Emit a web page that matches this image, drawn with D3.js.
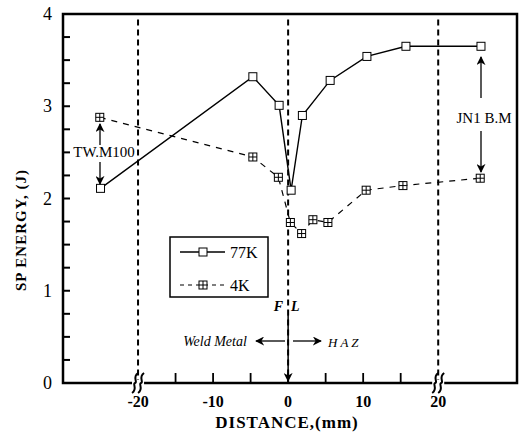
<!DOCTYPE html>
<html>
<head>
<meta charset="utf-8">
<script src="https://cdn.jsdelivr.net/npm/d3@7"></script>
<style>
  body { margin: 0; background: #fff; }
  text { font-family: "Liberation Serif", "DejaVu Serif", serif; fill: #000; }
</style>
</head>
<body>
<div id="chartDiv"></div>
<script>
// values
var dist77 = [-25, -4.7, -1.2, 0.4, 1.9, 5.6, 10.5, 15.7, 25.7];
var energy77 = [2.11, 3.32, 3.01, 2.09, 2.9, 3.28, 3.54, 3.65, 3.65];
var dist4 = [-25.1, -4.7, -1.3, 0.3, 1.8, 3.3, 5.3, 10.4, 15.3, 25.6];
var energy4 = [2.88, 2.45, 2.23, 1.74, 1.62, 1.77, 1.74, 2.09, 2.14, 2.22];
var xTicks = [-20, -10, 0, 10, 20];
var xMinor = [-15, -5, 5, 15];
var yTicks = [0, 1, 2, 3, 4];
var seriesNames = ["77K", "4K"];
var guideLines = [-20, 0, 20];

var width = 525,
    height = 445;

var svg = d3.select("#chartDiv")
    .append("svg")
    .attr("width", width)
    .attr("height", height);

var x = d3.scaleLinear().domain([-30, 30.5]).range([63, 517]);
var y = d3.scaleLinear().domain([0, 4]).range([383, 14]);

// dashed guides at -20, 0 (fusion line) and 20
svg.append("g")
    .selectAll("line")
    .data(guideLines)
    .enter().append("line")
    .attr("x1", function (d) { return x(d); })
    .attr("x2", function (d) { return x(d); })
    .attr("y1", y(3.94))
    .attr("y2", y(0))
    .attr("stroke", "#000")
    .attr("stroke-width", 2)
    .attr("stroke-dasharray", "6,4");

// frame
svg.append("rect")
    .attr("x", x(-30))
    .attr("y", y(4))
    .attr("width", x(30.5) - x(-30))
    .attr("height", y(0) - y(4))
    .attr("fill", "none")
    .attr("stroke", "#000")
    .attr("stroke-width", 2.5);

// y ticks (inside, every 0.25)
var yAll = d3.range(0, 4.01, 0.25);
svg.append("g")
    .selectAll("line")
    .data(yAll)
    .enter().append("line")
    .attr("x1", x(-30))
    .attr("x2", x(-30) + 7)
    .attr("y1", function (d) { return y(d); })
    .attr("y2", function (d) { return y(d); })
    .attr("stroke", "#000")
    .attr("stroke-width", 2);

svg.append("g")
    .selectAll("text")
    .data(yTicks)
    .enter().append("text")
    .attr("x", 52)
    .attr("y", function (d) { return y(d) + 6; })
    .attr("text-anchor", "end")
    .style("font-size", "18px")
    .text(function (d) { return d; });

// x ticks (inside)
svg.append("g")
    .selectAll("line")
    .data(xTicks.filter(function (d) { return Math.abs(d) < 20; }).concat(xMinor))
    .enter().append("line")
    .attr("x1", function (d) { return x(d); })
    .attr("x2", function (d) { return x(d); })
    .attr("y1", y(0))
    .attr("y2", y(0) - 10)
    .attr("stroke", "#000")
    .attr("stroke-width", 1.8);

svg.append("g")
    .selectAll("text")
    .data(xTicks)
    .enter().append("text")
    .attr("x", function (d) { return x(d); })
    .attr("y", 407)
    .attr("text-anchor", "middle")
    .style("font-size", "16px")
    .style("font-weight", "bold")
    .text(function (d) { return d; });

// axis break marks at +-20
var breaks = svg.append("g")
    .selectAll("g")
    .data([-20, 20])
    .enter().append("g")
    .attr("transform", function (d) { return "translate(" + x(d) + "," + y(0) + ")"; });
breaks.append("rect")
    .attr("x", -6).attr("y", -3).attr("width", 12).attr("height", 6)
    .attr("fill", "#fff");
[-3, 3].forEach(function (dx) {
    breaks.append("path")
        .attr("d", "M" + (dx + 3) + ",-10 C" + (dx - 3) + ",-6 " + (dx + 3) + ",-1 " + dx + ",0 C" + (dx - 3) + ",1 " + (dx + 3) + ",6 " + (dx - 3) + ",10")
        .attr("fill", "none")
        .attr("stroke", "#000")
        .attr("stroke-width", 2);
});

// series
var line = d3.line()
    .x(function (d) { return x(d[0]); })
    .y(function (d) { return y(d[1]); });

var pts77 = d3.zip(dist77, energy77),
    pts4 = d3.zip(dist4, energy4);

svg.append("path")
    .datum(pts77)
    .attr("d", line)
    .attr("fill", "none")
    .attr("stroke", "#000")
    .attr("stroke-width", 1.4);

svg.append("path")
    .datum(pts4)
    .attr("d", line)
    .attr("fill", "none")
    .attr("stroke", "#000")
    .attr("stroke-width", 1.2)
    .attr("stroke-dasharray", "6,6");

function square(g, cx, cy, cross) {
    g.append("rect")
        .attr("x", cx - 4).attr("y", cy - 4)
        .attr("width", 8).attr("height", 8)
        .attr("fill", "#fff")
        .attr("stroke", "#000")
        .attr("stroke-width", 1);
    if (cross) {
        g.append("path")
            .attr("d", "M" + cx + "," + (cy - 4) + "V" + (cy + 4) + "M" + (cx - 4) + "," + cy + "H" + (cx + 4))
            .attr("stroke", "#000")
            .attr("stroke-width", 1);
    }
}

var marks = svg.append("g");
pts77.forEach(function (d) { square(marks, x(d[0]), y(d[1]), false); });
pts4.forEach(function (d) { square(marks, x(d[0]), y(d[1]), true); });

// legend
var legend = svg.append("g");
legend.append("rect")
    .attr("x", 170).attr("y", 237)
    .attr("width", 98).attr("height", 60)
    .attr("fill", "#fff")
    .attr("stroke", "#000")
    .attr("stroke-width", 1.5);
seriesNames.forEach(function (name, i) {
    var ly = 252 + i * 33;
    legend.append("line")
        .attr("x1", 180).attr("x2", 225)
        .attr("y1", ly).attr("y2", ly)
        .attr("stroke", "#000")
        .attr("stroke-width", i ? 1.2 : 1.4)
        .attr("stroke-dasharray", i ? "4,4" : null);
    square(legend, 203, ly, i === 1);
    legend.append("text")
        .attr("x", 230).attr("y", ly + 6)
        .style("font-size", "16px")
        .text(name);
});

// arrow heads
var defs = svg.append("defs");
defs.append("marker")
    .attr("id", "head")
    .attr("viewBox", "0 0 10 10")
    .attr("refX", 9).attr("refY", 5)
    .attr("markerWidth", 9).attr("markerHeight", 9)
    .attr("markerUnits", "userSpaceOnUse")
    .attr("orient", "auto")
    .append("path")
    .attr("d", "M0,0 L10,5 L0,10 L3,5 Z")
    .attr("fill", "#000");

function arrow(x1, y1, x2, y2, w) {
    svg.append("line")
        .attr("x1", x1).attr("y1", y1)
        .attr("x2", x2).attr("y2", y2)
        .attr("stroke", "#000")
        .attr("stroke-width", w || 1.3)
        .attr("marker-end", "url(#head)");
}

// annotations
svg.append("text")
    .attr("x", 104).attr("y", 157)
    .attr("text-anchor", "middle")
    .style("font-size", "15px")
    .text("TW.M100");
arrow(100, 145, 100, 124);
arrow(100, 162, 100, 184);

svg.append("text")
    .attr("x", 484).attr("y", 123)
    .attr("text-anchor", "middle")
    .style("font-size", "15px")
    .text("JN1 B.M");
arrow(481, 98, 481, 57);
arrow(481, 131, 481, 172);

svg.append("text")
    .attr("x", 283).attr("y", 311)
    .attr("text-anchor", "end")
    .style("font-size", "14px")
    .style("font-weight", "bold")
    .style("font-style", "italic")
    .text("F");
svg.append("text")
    .attr("x", 291).attr("y", 311)
    .style("font-size", "14px")
    .style("font-weight", "bold")
    .style("font-style", "italic")
    .text("L");
svg.append("text")
    .attr("x", 215).attr("y", 346)
    .attr("text-anchor", "middle")
    .style("font-size", "14px")
    .style("font-style", "italic")
    .text("Weld Metal");
svg.append("text")
    .attr("x", 328).attr("y", 347)
    .style("font-size", "13px")
    .style("font-style", "italic")
    .style("letter-spacing", "3px")
    .text("HAZ");
arrow(285, 341, 256, 341);
arrow(293, 341, 321, 341);
arrow(x(0), 315, x(0), 381, 1.5);

// axis titles
svg.append("text")
    .attr("x", 287).attr("y", 428)
    .attr("text-anchor", "middle")
    .style("font-size", "17px")
    .style("font-weight", "bold")
    .style("letter-spacing", "1px")
    .text("DISTANCE,(mm)");

svg.append("text")
    .attr("transform", "translate(26,230) rotate(-90)")
    .attr("text-anchor", "middle")
    .style("font-size", "15px")
    .style("font-weight", "bold")
    .style("letter-spacing", "1px")
    .text("SP ENERGY, (J)");
</script>
</body>
</html>
